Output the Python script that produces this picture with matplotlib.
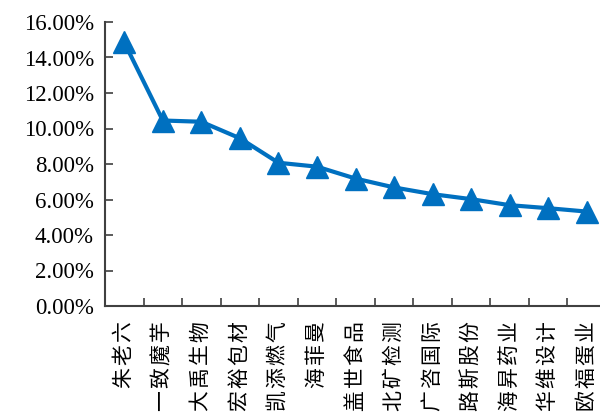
import matplotlib
matplotlib.use("Agg")
import matplotlib.pyplot as plt
from matplotlib.ticker import FuncFormatter, FixedLocator
import numpy as np

# company names and their values
names = ["朱老六", "一致魔芋", "大禹生物", "宏裕包材", "凯添燃气", "海菲曼", "盖世食品",
         "北矿检测", "广咨国际", "路斯股份", "海昇药业", "华维设计", "欧福蛋业"]
values = [14.85, 10.45, 10.38, 9.45, 8.07, 7.85, 7.18, 6.68, 6.30, 6.02, 5.68, 5.51, 5.32]

blue = "#0070C0"

fig = plt.figure(figsize=(6.0, 4.16), dpi=100)
ax = fig.add_axes([105 / 600, 110 / 416, 501 / 600, 284 / 416])

x = np.arange(len(names))
ax.plot(x, np.array(values) / 100, color=blue, lw=3, marker="^", ms=16,
        markeredgecolor=blue, markerfacecolor=blue, clip_on=False, zorder=3)

ax.set_xlim(-0.5, len(names) - 0.5)
ax.set_ylim(0, 0.16)
ax.set_yticks(np.arange(0, 0.161, 0.02))
ax.yaxis.set_major_formatter(FuncFormatter(lambda v, p: "%.2f%%" % (v * 100)))
for lab in ax.get_yticklabels():
    lab.set_fontfamily("Liberation Serif")
    lab.set_fontsize(16.5)

# spread the characters a little, like the original
spaced = ["\u200a".join(n) for n in names]
ax.set_xticks(x)
ax.set_xticklabels(spaced, rotation=90, fontsize=15, family=["Noto Sans CJK SC", "DejaVu Sans"])
ax.xaxis.set_minor_locator(FixedLocator(np.arange(0.5, len(names) - 1, 1.0)))
ax.tick_params(axis="x", which="major", length=0, pad=11)
ax.tick_params(axis="x", which="minor", direction="in", length=6, width=1.2, color="#404040")
ax.tick_params(axis="y", direction="in", length=6, width=1.2, color="#404040", pad=8)

for s in ["top", "right"]:
    ax.spines[s].set_visible(False)
for s in ["left", "bottom"]:
    ax.spines[s].set_color("#404040")
    ax.spines[s].set_linewidth(1.5)

fig.savefig("out.png", dpi=100)
